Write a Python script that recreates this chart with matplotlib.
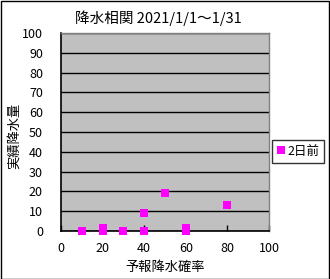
import matplotlib
matplotlib.use("Agg")
import matplotlib.pyplot as plt
from matplotlib.patches import Rectangle

plt.rcParams['font.family'] = ['Noto Sans CJK JP', 'DejaVu Sans']

title = "降水相関 2021/1/1～1/31"
xlabel = "予報降水確率"
ylabel = "実績降水量"
series_name = "2日前"
x_vals = [10, 20, 20, 30, 40, 40, 50, 60, 60, 80]
y_vals = [0, 0, 1.5, 0, 0, 9, 19, 0, 1.5, 13]
x_ticks = [0, 20, 40, 60, 80, 100]
y_ticks = [0, 10, 20, 30, 40, 50, 60, 70, 80, 90, 100]

fig = plt.figure(figsize=(3.3, 2.79), dpi=100)
fig.patches.append(Rectangle((0.5/330, 0.5/279), 1-1.5/330, 1-1.5/279, transform=fig.transFigure,
                             fill=False, edgecolor='black', linewidth=1.0))
ax = fig.add_axes([61/330, 1-231/279, 208/330, 198/279])
ax.set_facecolor('#c0c0c0')
ax.set_xlim(0, 100)
ax.set_ylim(0, 100)
ax.set_xticks(x_ticks)
ax.set_yticks(y_ticks)
ax.yaxis.grid(True, color='black', linewidth=1.0)
ax.set_axisbelow(True)
ax.tick_params(axis='x', direction='in', length=4, width=1, labelsize=9, pad=8, colors='black')
ax.tick_params(axis='y', length=0, labelsize=9, pad=13)
for s in ['left', 'bottom']:
    ax.spines[s].set_color('black')
    ax.spines[s].set_linewidth(1.2)
for s in ['top', 'right']:
    ax.spines[s].set_color('#808080')
    ax.spines[s].set_linewidth(1.0)

ax.plot(x_vals, y_vals, linestyle='none', marker='s', markersize=5.5, color='#ff00ff',
        markeredgewidth=0, clip_on=False, label=series_name, zorder=5)

ax.set_title(title, fontsize=10.5, pad=7, x=0.47)
ax.set_xlabel(xlabel, fontsize=9.5, labelpad=4)
ax.set_ylabel(ylabel, fontsize=9.5)
ax.yaxis.set_label_coords(-0.195, 0.48)

leg = ax.legend(loc='center left', bbox_to_anchor=(272/330, 1-151/279), bbox_transform=fig.transFigure,
                frameon=True, fancybox=False, fontsize=9, handlelength=0.6, handletextpad=0.2,
                borderpad=0.4, markerscale=1.0, borderaxespad=0)
leg.get_frame().set_edgecolor('black')
leg.get_frame().set_linewidth(1.0)

fig.savefig("out.png", dpi=100)
